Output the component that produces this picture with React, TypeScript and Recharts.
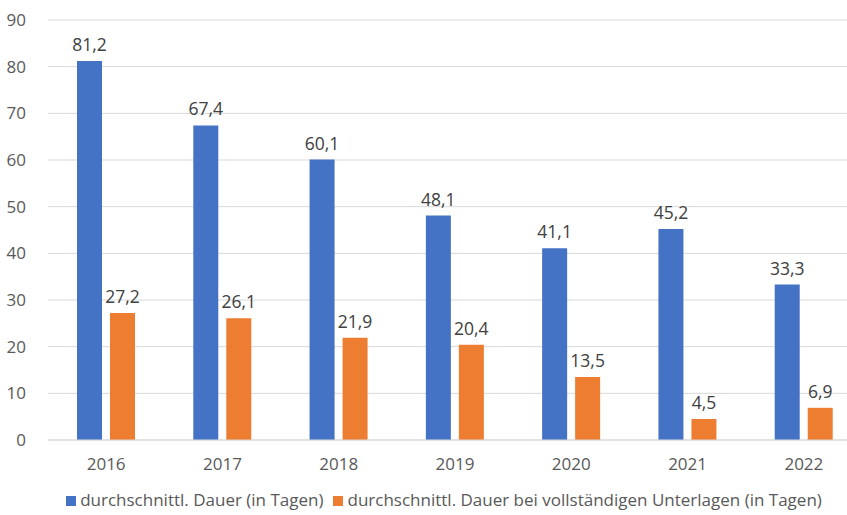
import { BarChart, Bar, XAxis, YAxis, CartesianGrid, Legend, LabelList } from "recharts";

const years = ["2016", "2017", "2018", "2019", "2020", "2021", "2022"];
const dauer = [81.2, 67.4, 60.1, 48.1, 41.1, 45.2, 33.3];
const dauerVollstaendig = [27.2, 26.1, 21.9, 20.4, 13.5, 4.5, 6.9];
const yTicks = [0, 10, 20, 30, 40, 50, 60, 70, 80, 90];

const data = years.map((year, i) => ({
  year,
  dauer: dauer[i],
  vollstaendig: dauerVollstaendig[i],
}));

const fmt = (v: any) => String(v).replace(".", ",");

export default function App() {
  return (
    <div style={{ position: "fixed", left: 0, top: 0, width: 847, height: 515, overflow: "hidden", background: "#fff" }}>
      <BarChart
        width={862}
        height={515}
        data={data}
        margin={{ top: 20, right: 0, left: 0, bottom: 0 }}
        barSize={25}
        barGap={8}
        style={{ fontFamily: "'Open Sans', sans-serif" }}
      >
        <CartesianGrid vertical={false} stroke="#d9d9d9" />
        <XAxis
          dataKey="year"
          axisLine={{ stroke: "#d9d9d9" }}
          tickLine={false}
          tick={{ fill: "#595959", fontSize: 17 }}
          tickMargin={12}
          height={49}
        />
        <YAxis
          domain={[0, 90]}
          ticks={yTicks}
          axisLine={false}
          tickLine={false}
          tick={{ fill: "#595959", fontSize: 17 }}
          width={48}
          tickMargin={16}
        />
        <Legend
          verticalAlign="bottom"
          iconType="square"
          iconSize={10}
          height={26}
          wrapperStyle={{ left: 18, fontSize: 17, lineHeight: "22px", color: "#595959" }}
          formatter={(value) => <span style={{ color: "#595959" }}>{value}</span>}
        />
        <Bar dataKey="dauer" name="durchschnittl. Dauer (in Tagen)" fill="#4472c4" isAnimationActive={false}>
          <LabelList dataKey="dauer" position="top" offset={10} formatter={fmt} fill="#404040" fontSize={17.5} />
        </Bar>
        <Bar dataKey="vollstaendig" name="durchschnittl. Dauer bei vollständigen Unterlagen (in Tagen)" fill="#ed7d31" isAnimationActive={false}>
          <LabelList dataKey="vollstaendig" position="top" offset={10} formatter={fmt} fill="#404040" fontSize={17.5} />
        </Bar>
      </BarChart>
    </div>
  );
}
